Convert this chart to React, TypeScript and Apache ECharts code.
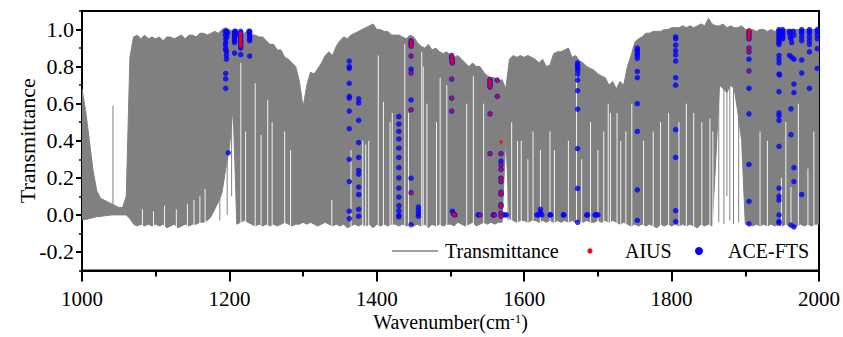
import React, { useEffect, useRef } from "react";
import * as echarts from "echarts";

// Spectrum sampled every 5 cm-1 from 1000 to 2000 cm-1 (envelope of the dense line spectrum)
const spectrumStart = 1000;
const spectrumStep = 5;

const upperEnvelope = [
  0.68, 0.56, 0.40, 0.24, 0.13, 0.09, 0.08, 0.07, 0.06, 0.05,
  0.04, 0.04, 0.10, 0.85, 0.96, 0.97, 0.95, 0.97, 0.95, 0.96,
  0.95, 0.96, 0.94, 0.96, 0.96, 0.95, 0.96, 0.97, 0.95, 0.97,
  0.97, 0.96, 0.98, 0.98, 0.97, 0.98, 0.99, 0.98, 1.00, 1.01,
  1.00, 0.99, 0.99, 0.98, 0.98, 0.99, 0.97, 0.97, 0.96, 0.96,
  0.94, 0.92, 0.92, 0.89, 0.89, 0.85, 0.84, 0.82, 0.80, 0.72,
  0.58, 0.70, 0.77, 0.76, 0.79, 0.82, 0.86, 0.88, 0.86, 0.91,
  0.94, 0.96, 0.95, 0.97, 0.98, 0.99, 1.00, 1.01, 1.02, 1.03,
  1.00, 1.00, 0.99, 0.99, 0.97, 0.97, 0.97, 0.96, 0.95, 0.97,
  0.96, 0.93, 0.91, 0.90, 0.92, 0.89, 0.90, 0.88, 0.87, 0.88,
  0.86, 0.85, 0.86, 0.84, 0.82, 0.80, 0.82, 0.80, 0.80, 0.77,
  0.75, 0.74, 0.74, 0.72, 0.73, 0.68, 0.84, 0.86, 0.85, 0.86,
  0.85, 0.86, 0.85, 0.84, 0.82, 0.84, 0.80, 0.81, 0.87, 0.88,
  0.88, 0.89, 0.90, 0.85, 0.86, 0.83, 0.82, 0.80, 0.79, 0.78,
  0.76, 0.75, 0.74, 0.70, 0.72, 0.68, 0.72, 0.70, 0.80, 0.86,
  0.93, 0.95, 0.96, 0.98, 0.98, 0.99, 0.99, 0.99, 1.00, 1.00,
  1.01, 1.01, 1.01, 1.02, 1.01, 1.02, 1.01, 1.02, 1.03, 1.02,
  1.06, 1.03, 1.02, 1.02, 1.03, 1.01, 1.02, 1.01, 1.01, 1.02,
  1.00, 1.00, 1.00, 0.99, 1.00, 1.00, 0.99, 1.00, 0.99, 1.00,
  1.00, 1.00, 1.00, 1.00, 1.00, 1.00, 1.00, 1.00, 1.00, 1.00,
  1.00,
];

const lowerEnvelope = [
  -0.025, -0.025, -0.02, -0.015, -0.01, -0.008, -0.005, -0.003, 0.0, 0.0,
  0.0, 0.0, 0.0, -0.02, -0.05, -0.06, -0.05, -0.06, -0.05, -0.06,
  -0.05, -0.06, -0.05, -0.07, -0.06, -0.05, -0.07, -0.06, -0.05, -0.06,
  -0.05, -0.05, -0.04, -0.04, -0.03, -0.01, 0.03, 0.07, 0.12, 0.25,
  0.36, 0.58, -0.05, -0.04, -0.03, -0.04, -0.05, -0.06, -0.05, -0.06,
  -0.05, -0.06, -0.05, -0.06, -0.05, -0.04, -0.05, -0.06, -0.05, -0.05,
  -0.04, -0.05, -0.04, -0.05, -0.06, -0.05, -0.04, -0.05, -0.06, -0.05,
  -0.06, -0.05, -0.07, -0.06, -0.05, -0.06, -0.05, -0.06, -0.05, -0.07,
  -0.05, -0.06, -0.05, -0.06, -0.05, -0.05, -0.06, -0.05, -0.06, -0.05,
  -0.06, -0.05, -0.06, -0.05, -0.07, -0.05, -0.06, -0.05, -0.06, -0.05,
  -0.05, -0.06, -0.04, -0.05, -0.06, -0.05, -0.04, -0.06, -0.05, -0.04,
  -0.05, -0.04, -0.05, -0.04, -0.04, 0.42, -0.02, -0.03, -0.04, -0.03,
  -0.03, -0.04, -0.03, -0.03, -0.04, -0.03, -0.04, -0.03, -0.04, -0.03,
  -0.04, -0.03, -0.04, -0.03, -0.04, -0.03, -0.04, -0.03, -0.04, -0.04,
  -0.03, -0.04, -0.03, -0.04, -0.03, -0.04, -0.05, -0.04, -0.05, -0.06,
  -0.05, -0.06, -0.05, -0.06, -0.05, -0.06, -0.07, -0.05, -0.06, -0.05,
  -0.06, -0.05, -0.06, -0.05, -0.06, -0.05, -0.06, -0.07, -0.05, -0.06,
  -0.05, -0.06, 0.30, 0.70, 0.68, 0.66, 0.70, 0.68, 0.55, 0.40,
  -0.05, -0.05, -0.06, -0.05, -0.06, -0.05, -0.06, -0.05, -0.06, -0.05,
  -0.06, -0.05, -0.06, -0.07, -0.06, -0.05, -0.06, -0.05, -0.06, -0.05,
  -0.05,
];

// Narrow transparent windows: [wavenumber, highest transmittance reached by the gap]
const windowLines: [number, number][] = [
  [1082, 0.03], [1097, 0.02], [1112, 0.05], [1128, 0.03], [1143, 0.06], [1152, 0.08], [1160, 0.1], [1167, 0.14],
  [1215.5, 0.82], [1222, 0.45], [1235, 0.71], [1243, 0.43], [1252, 0.62], [1258, 0.5],
  [1275, 0.45], [1283, 0.35], [1339, 0.08], [1365, 0.35], [1381, 0.4], [1385, 0.38],
  [1389, 0.4], [1402, 0.86], [1409, 0.61], [1418, 0.5], [1421, 0.55], [1438, 0.92],
  [1443, 0.55], [1461, 0.88], [1463, 0.8], [1468, 0.6], [1481, 0.5], [1486, 0.74],
  [1495, 0.7], [1522, 0.6], [1531, 0.75], [1545, 0.6], [1583, 0.5], [1591, 0.4],
  [1596, 0.4], [1605, 0.3], [1612, 0.45], [1622, 0.35], [1635, 0.45], [1641, 0.35], [1660, 0.4],
  [1671, 0.78], [1678, 0.3], [1690, 0.5], [1700, 0.35], [1708, 0.45], [1714, 0.6], [1717, 0.55],
  [1726, 0.55], [1731, 0.4], [1738, 0.45], [1746, 0.6], [1762, 0.4], [1775, 0.45], [1785, 0.5],
  [1796, 0.55], [1810, 0.5], [1820, 0.6], [1830, 0.55], [1841, 0.5], [1852, 0.52],
  [1856, 0.45], [1920, 0.45], [1930, 0.4], [1949, 0.2], [1955, 0.5], [1962, 0.15], [1972, 0.6],
  [1985, 0.25], [1993, 0.45],
];

// Isolated strong lines inside transparent regions: [wavenumber, bottom, top]
const isolatedLines: [number, number, number][] = [
  [1042, 0.0, 0.59], [1187, -0.03, 0.6], [1197, 0.0, 0.7], [1203, 0.1, 0.9],
  [1578, -0.03, 0.7], [1864, -0.04, 0.95], [1871, -0.05, 0.95], [1875, 0.1, 0.95],
  [1879, -0.03, 0.95], [1884, -0.05, 0.95], [1891, -0.04, 0.95],
];

const aiusPoints: [number, number][] = [
  [1215.3, 0.98], [1215.3, 0.97], [1215.3, 0.96], [1215.3, 0.95], [1215.3, 0.94], [1215.3, 0.93], [1215.3, 0.92], [1215.3, 0.91],
  [1446.5, 0.94], [1446.5, 0.93], [1446.5, 0.92], [1446.5, 0.91], [1446.5, 0.857], [1446.5, 0.765], [1446.5, 0.567], [1446.5, 0.12],
  [1501.6, 0.86], [1501.6, 0.85], [1502, 0.84], [1502, 0.83], [1502.5, 0.82], [1501.6, 0.733], [1501.6, 0.63], [1501.6, 0.56],
  [1504, 0.005], [1506, 0.0], [1540, 0.0],
  [1553.6, 0.73], [1553.6, 0.72], [1553.6, 0.71], [1553.6, 0.7], [1553.6, 0.69], [1553.6, 0.545], [1553.6, 0.33],
  [1559.5, 0.0], [1563.5, 0.727], [1563.5, 0.64],
  [1568.5, 0.394], [1568.5, 0.33], [1568.5, 0.27], [1568.5, 0.245], [1568.5, 0.198], [1568.5, 0.18], [1568.5, 0.123],
  [1568.5, 0.112], [1568.5, 0.055], [1568.5, 0.046], [1568.5, 0.01], [1568.5, -0.007],
  [1905, 1.0], [1905, 0.99], [1905, 0.98], [1905, 0.97], [1905, 0.96], [1905, 0.95], [1905, 0.9], [1905, 0.88], [1905, 0.777],
];

const aceFtsPoints: [number, number][] = [
  [1194.5, 0.99], [1196, 0.99], [1197.5, 0.98], [1194.5, 0.97], [1196.5, 0.96], [1195, 0.95], [1195, 0.93],
  [1194.5, 0.92], [1195, 0.9], [1195, 0.89], [1196, 0.88], [1196, 0.86], [1196, 0.84],
  [1195, 0.763], [1195, 0.734], [1195, 0.683], [1198.5, 0.335],
  [1207, 0.99], [1207, 0.98], [1207, 0.97], [1207, 0.96], [1207, 0.95], [1207, 0.94], [1207, 0.93], [1207, 0.873],
  [1208.5, 0.99], [1208.5, 0.97],
  [1215.3, 0.99], [1215.3, 0.98], [1215.3, 0.97], [1215.3, 0.96], [1215.3, 0.95], [1215.3, 0.94], [1215.3, 0.93],
  [1215.3, 0.92], [1215.3, 0.91], [1215.3, 0.9], [1215.3, 0.865],
  [1227.5, 0.99], [1227.5, 0.98], [1227.5, 0.97], [1227.5, 0.96], [1227.5, 0.95], [1227.5, 0.94], [1226.5, 0.99], [1227.5, 0.857],
  [1362.7, 0.83], [1362.7, 0.8], [1362.7, 0.79], [1362.7, 0.71], [1362.7, 0.64], [1362.7, 0.63], [1362.7, 0.56],
  [1362.7, 0.465], [1362.7, 0.3], [1362.7, 0.18], [1362.7, 0.02], [1362.7, -0.02],
  [1375.4, 0.626], [1375.4, 0.604], [1375.4, 0.51], [1375.4, 0.39], [1375.4, 0.31], [1375.4, 0.24], [1375.4, 0.22],
  [1375.4, 0.15], [1375.4, 0.11], [1375.4, 0.03], [1375.4, -0.007],
  [1430, 0.53], [1430, 0.49], [1430, 0.45], [1430, 0.41], [1430, 0.36], [1430, 0.31], [1430, 0.255], [1430, 0.2],
  [1430, 0.145], [1430, 0.096], [1430, 0.05], [1430, 0.023], [1430, -0.002], [1430, -0.01],
  [1446.5, 0.94], [1446.5, 0.93], [1446.5, 0.92], [1446.5, 0.91], [1446.5, 0.857], [1446.5, 0.786], [1446.5, 0.765],
  [1446.5, 0.62], [1446.5, 0.567], [1446.5, 0.198], [1446.5, 0.12], [1446.5, -0.053],
  [1456.5, 0.043], [1456.5, 0.025], [1456.5, 0.007], [1456.5, -0.007],
  [1501.6, 0.86], [1501.6, 0.85], [1502, 0.84], [1502, 0.83], [1502.5, 0.82], [1501.6, 0.733], [1501.6, 0.63], [1501.6, 0.56],
  [1502.5, 0.02], [1504, 0.005], [1506, 0.0], [1537.5, 0.0], [1540, 0.0],
  [1553.6, 0.73], [1553.6, 0.72], [1553.6, 0.71], [1553.6, 0.7], [1553.6, 0.69], [1553.6, 0.545], [1553.6, 0.33],
  [1558, 0.0], [1559.5, 0.0], [1563.5, 0.727], [1563.5, 0.64],
  [1568.5, 0.33], [1568.5, 0.29], [1568.5, 0.27], [1568.5, 0.245], [1568.5, 0.198], [1568.5, 0.18], [1568.5, 0.123],
  [1568.5, 0.112], [1568.5, 0.055], [1568.5, 0.046], [1568.5, 0.01], [1568.5, -0.007],
  [1573, 0.0], [1576, 0.0], [1617, 0.0], [1620, 0.0], [1622, 0.03], [1622, 0.015], [1624, 0.0],
  [1635, 0.0], [1636, 0.0], [1653, 0.0], [1654, 0.0],
  [1672.5, 0.82], [1672.5, 0.81], [1672.5, 0.8], [1672.5, 0.79], [1672.5, 0.78], [1672.5, 0.76], [1672.5, 0.727],
  [1672.5, 0.67], [1672.5, 0.57], [1672.5, 0.358], [1672.5, 0.143], [1672.5, -0.04],
  [1684.7, 0.0], [1686, 0.0], [1696, 0.0], [1698, 0.0], [1700, 0.0],
  [1753.5, 0.9], [1753.5, 0.89], [1753.5, 0.88], [1753.5, 0.87], [1753.5, 0.86], [1753.5, 0.845], [1753.5, 0.774],
  [1753.5, 0.74], [1753.5, 0.6], [1753.5, 0.45], [1753.5, 0.135], [1753.5, -0.03],
  [1805.5, 0.96], [1805.5, 0.95], [1805.5, 0.916], [1805.5, 0.886], [1805.5, 0.863], [1805.5, 0.83], [1805.5, 0.74],
  [1805.5, 0.7], [1805.5, 0.46], [1805.5, 0.31], [1805.5, 0.023], [1805.5, -0.036],
  [1905, 0.99], [1905, 0.98], [1905, 0.97], [1905, 0.96], [1905, 0.95], [1905, 0.9], [1905, 0.88], [1905, 0.84],
  [1905, 0.777], [1905, 0.683], [1905, 0.545], [1905, 0.272], [1905, 0.073], [1905, -0.048],
  [1945.7, 1.0], [1945.7, 0.99], [1945.7, 0.98], [1945.7, 0.97], [1945.7, 0.96], [1945.7, 0.95], [1945.7, 0.94],
  [1945.7, 0.93], [1945.7, 0.92], [1945.7, 0.86], [1945.7, 0.84], [1945.7, 0.82], [1945.7, 0.76], [1946.5, 0.755],
  [1945.7, 0.665], [1945.7, 0.55], [1945.7, 0.535], [1945.7, 0.51], [1945.7, 0.37], [1945.7, 0.144], [1945.7, 0.1],
  [1945.7, 0.08], [1945.7, 0.0], [1945.7, -0.035], [1945.7, -0.045],
  [1950.7, 1.0], [1950.7, 0.99], [1950.7, 0.98], [1950.7, 0.97], [1950.7, 0.96], [1950.7, 0.95],
  [1960, 0.99], [1960, 0.98], [1961, 0.96], [1962, 0.95], [1963, 0.93], [1965, 0.99], [1966, 0.97],
  [1960, 0.86], [1963, 0.85], [1966, 0.84], [1966, 0.706], [1966, 0.66], [1962, 0.572], [1962, 0.433],
  [1966, 0.255], [1966, 0.18], [1962, -0.055], [1966, -0.065],
  [1976.5, 1.0], [1976.5, 0.99], [1976.5, 0.98], [1976.5, 0.96], [1976.5, 0.94], [1976.5, 0.836], [1976.5, 0.765], [1976.5, 0.11],
  [1987, 1.0], [1987, 0.99], [1987, 0.98], [1987, 0.96], [1987, 0.94], [1987, 0.92], [1987, 0.88], [1987, 0.683],
  [1997.7, 1.0], [1997.7, 0.99], [1997.7, 0.97], [1997.7, 0.95], [1997.7, 0.897], [1997.7, 0.79],
];

const yTickLabels = [-0.2, 0.0, 0.2, 0.4, 0.6, 0.8, 1.0];
const legendNames = ["Transmittance", "AIUS", "ACE-FTS"];

const FONT = "Liberation Serif";
const GRAY = "#808080";

export default function App() {
  const ref = useRef<HTMLDivElement>(null);

  useEffect(() => {
    document.body.style.margin = "0";
    if (!ref.current) return;
    const chart = echarts.init(ref.current, undefined, { renderer: "svg" });

    const windowData: any[] = [];
    windowLines.forEach(([wn, top]) => {
      windowData.push([wn, -0.09], [wn, top], [wn, "-"]);
    });
    const isolatedData: any[] = [];
    isolatedLines.forEach(([wn, lo, hi]) => {
      isolatedData.push([wn, lo], [wn, hi], [wn, "-"]);
    });

    const legendY = 251;
    const textStyle = { fontFamily: FONT, fontSize: 20, fill: "#000", verticalAlign: "middle" };

    const option: any = {
      animation: false,
      backgroundColor: "#fff",
      grid: {
        left: 82,
        right: 24,
        top: 11,
        bottom: 64,
        show: true,
        borderColor: "#000",
        borderWidth: 2,
        backgroundColor: "transparent",
      },
      graphic: [
        { type: "line", shape: { x1: 392, y1: legendY, x2: 438, y2: legendY }, style: { stroke: GRAY, lineWidth: 1.5 }, z: 10 },
        { type: "text", x: 445, y: legendY, style: { ...textStyle, text: legendNames[0] }, z: 10 },
        { type: "circle", shape: { cx: 590, cy: legendY, r: 2.6 }, style: { fill: "#ff0000" }, z: 10 },
        { type: "text", x: 625, y: legendY, style: { ...textStyle, text: legendNames[1] }, z: 10 },
        { type: "circle", shape: { cx: 699, cy: legendY, r: 4 }, style: { fill: "#0000ff" }, z: 10 },
        { type: "text", x: 728, y: legendY, style: { ...textStyle, text: legendNames[2] }, z: 10 },
      ],
      xAxis: {
        type: "value",
        min: 1000,
        max: 2000,
        interval: 200,
        axisLine: { show: true, onZero: false, lineStyle: { color: "#000", width: 2 } },
        axisTick: { show: true, length: 11, lineStyle: { color: "#000", width: 2 } },
        minorTick: { show: true, splitNumber: 2, length: 6, lineStyle: { color: "#000", width: 2 } },
        axisLabel: {
          formatter: (v: number) => String(v),
          fontFamily: FONT,
          fontSize: 21,
          lineHeight: 14,
          color: "#000",
          margin: 21,
        },
        splitLine: { show: false },
        name: "Wavenumber(cm{sup|-1})",
        nameLocation: "middle",
        nameGap: 41,
        nameMoveOverlap: false,
        nameTextStyle: {
          fontFamily: FONT,
          fontSize: 20,
          color: "#000",
          rich: {
            sup: { fontFamily: FONT, fontSize: 13, color: "#000", verticalAlign: "top", padding: [0, 0, 8, 0] },
          },
        },
      },
      yAxis: [
        {
          type: "value",
          min: -0.3,
          max: 1.1,
          position: "left",
          axisLine: { show: true, onZero: false, lineStyle: { color: "#000", width: 2 } },
          axisTick: { show: true, customValues: yTickLabels, length: 6, lineStyle: { color: "#000", width: 2 } },
          axisLabel: {
            customValues: yTickLabels,
            formatter: (v: number) => v.toFixed(1),
            fontFamily: FONT,
            fontSize: 22,
            color: "#000",
            margin: 8,
          },
          splitLine: { show: false },
          name: "Transmittance",
          nameLocation: "middle",
          nameGap: 44,
          nameMoveOverlap: false,
          nameTextStyle: { fontFamily: FONT, fontSize: 22, color: "#000" },
        },
        {
          type: "value",
          min: -0.3,
          max: 1.1,
          interval: 0.1,
          position: "left",
          axisLine: { show: false },
          axisTick: { show: true, length: 3, lineStyle: { color: "#000", width: 1.5 } },
          axisLabel: { show: false },
          splitLine: { show: false },
        },
      ],
      series: [
        {
          name: "Transmittance",
          type: "custom",
          data: [[spectrumStart, 0]],
          itemStyle: { color: GRAY },
          silent: true,
          clip: true,
          z: 2,
          renderItem: (_params: any, api: any) => {
            const pts: number[][] = [];
            upperEnvelope.forEach((v, i) => pts.push(api.coord([spectrumStart + i * spectrumStep, v])));
            for (let i = lowerEnvelope.length - 1; i >= 0; i--) {
              pts.push(api.coord([spectrumStart + i * spectrumStep, lowerEnvelope[i]]));
            }
            return {
              type: "polygon",
              shape: { points: pts },
              style: { fill: GRAY, stroke: GRAY, lineWidth: 1 },
            };
          },
        },
        {
          name: "windows",
          type: "line",
          data: windowData,
          symbol: "none",
          connectNulls: false,
          lineStyle: { color: "#ffffff", width: 0.9 },
          silent: true,
          z: 3,
        },
        {
          name: "lines",
          type: "line",
          data: isolatedData,
          symbol: "none",
          connectNulls: false,
          lineStyle: { color: GRAY, width: 1 },
          silent: true,
          z: 3,
        },
        {
          name: "ACE-FTS",
          type: "scatter",
          data: aceFtsPoints,
          symbol: "circle",
          symbolSize: 5.5,
          itemStyle: { color: "#0000ff" },
          z: 4,
        },
        {
          name: "AIUS",
          type: "scatter",
          data: aiusPoints,
          symbol: "circle",
          symbolSize: 3.5,
          itemStyle: { color: "#ff0000" },
          z: 5,
        },
      ],
    };

    chart.setOption(option);
    return () => chart.dispose();
  }, []);

  return <div ref={ref} style={{ width: 843, height: 337 }} />;
}
